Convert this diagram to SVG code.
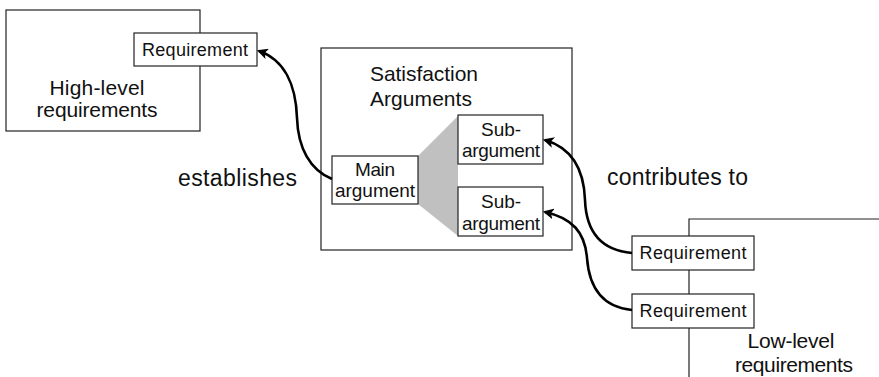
<svg xmlns="http://www.w3.org/2000/svg" width="879" height="377" viewBox="0 0 879 377">
<defs>
<style>
.box{fill:#fff;stroke:#222;stroke-width:1.2}
.frame{fill:none;stroke:#222;stroke-width:1.2}
.t{font-family:"Liberation Sans",Arial,sans-serif;fill:#111}
.s{font-size:18px}
.m{font-size:19px}
.l{font-size:21px}
.xl{font-size:23px}
.arc{fill:none;stroke:#000;stroke-width:2.6;marker-end:url(#ah)}
</style>
<marker id="ah" viewBox="0 0 10 10" refX="8" refY="5" markerWidth="4.2" markerHeight="4.2" orient="auto" markerUnits="strokeWidth">
<path d="M0,0 L10,5 L0,10 L2.5,5 Z" fill="#000"/>
</marker>
</defs>
<rect width="879" height="377" fill="#fff"/>

<g id="high-level">
<rect class="frame" x="6" y="10" width="194" height="121"/>
<text class="t l" x="97" y="95" text-anchor="middle" textLength="95">High-level</text>
<text class="t l" x="97" y="117" text-anchor="middle" textLength="121">requirements</text>
</g>
<g id="hl-requirement">
<rect class="box" x="134" y="33" width="123" height="33"/>
<text class="t s" x="195" y="56" text-anchor="middle" textLength="106">Requirement</text>
</g>

<g id="satisfaction">
<rect class="frame" x="321" y="48" width="251" height="202"/>
<text class="t l" x="370" y="81" textLength="108">Satisfaction</text>
<text class="t l" x="370" y="106" textLength="102">Arguments</text>
<polygon points="418,156 458,116 458,236 418,204" fill="#c0c0c0"/>
</g>
<g id="main-argument">
<rect class="box" x="332" y="156" width="86" height="48"/>
<text class="t m" x="375" y="176" text-anchor="middle" textLength="40">Main</text>
<text class="t m" x="375" y="197" text-anchor="middle" textLength="80">argument</text>
</g>
<g id="sub-argument-1">
<rect class="box" x="458" y="115" width="85" height="49"/>
<text class="t m" x="501" y="136" text-anchor="middle" textLength="40">Sub-</text>
<text class="t m" x="501" y="157" text-anchor="middle" textLength="78">argument</text>
</g>
<g id="sub-argument-2">
<rect class="box" x="458" y="187" width="85" height="49"/>
<text class="t m" x="501" y="208" text-anchor="middle" textLength="40">Sub-</text>
<text class="t m" x="501" y="230" text-anchor="middle" textLength="78">argument</text>
</g>

<g id="low-level">
<path class="frame" d="M879,219 H689 V377"/>
<text class="t l" x="791" y="348" text-anchor="middle" textLength="87">Low-level</text>
<text class="t l" x="794" y="372" text-anchor="middle" textLength="118">requirements</text>
</g>
<g id="ll-requirement-1">
<rect class="box" x="632" y="236" width="122" height="34"/>
<text class="t s" x="693" y="259" text-anchor="middle" textLength="107">Requirement</text>
</g>
<g id="ll-requirement-2">
<rect class="box" x="632" y="294" width="122" height="34"/>
<text class="t s" x="693" y="317" text-anchor="middle" textLength="107">Requirement</text>
</g>

<g id="connectors">
<path class="arc" d="M332,179 C310,170 298,148 297,118 C296,86 285,60 259,51"/>
<path class="arc" d="M632,253 C598,250 586,228 585,200 C584,170 572,148 545,140"/>
<path class="arc" d="M632,310 C600,307 589,285 587,258 C585,232 572,218 545,212"/>
<text class="t xl" x="178" y="186" textLength="119">establishes</text>
<text class="t xl" x="607" y="185" textLength="141">contributes to</text>
</g>
</svg>
